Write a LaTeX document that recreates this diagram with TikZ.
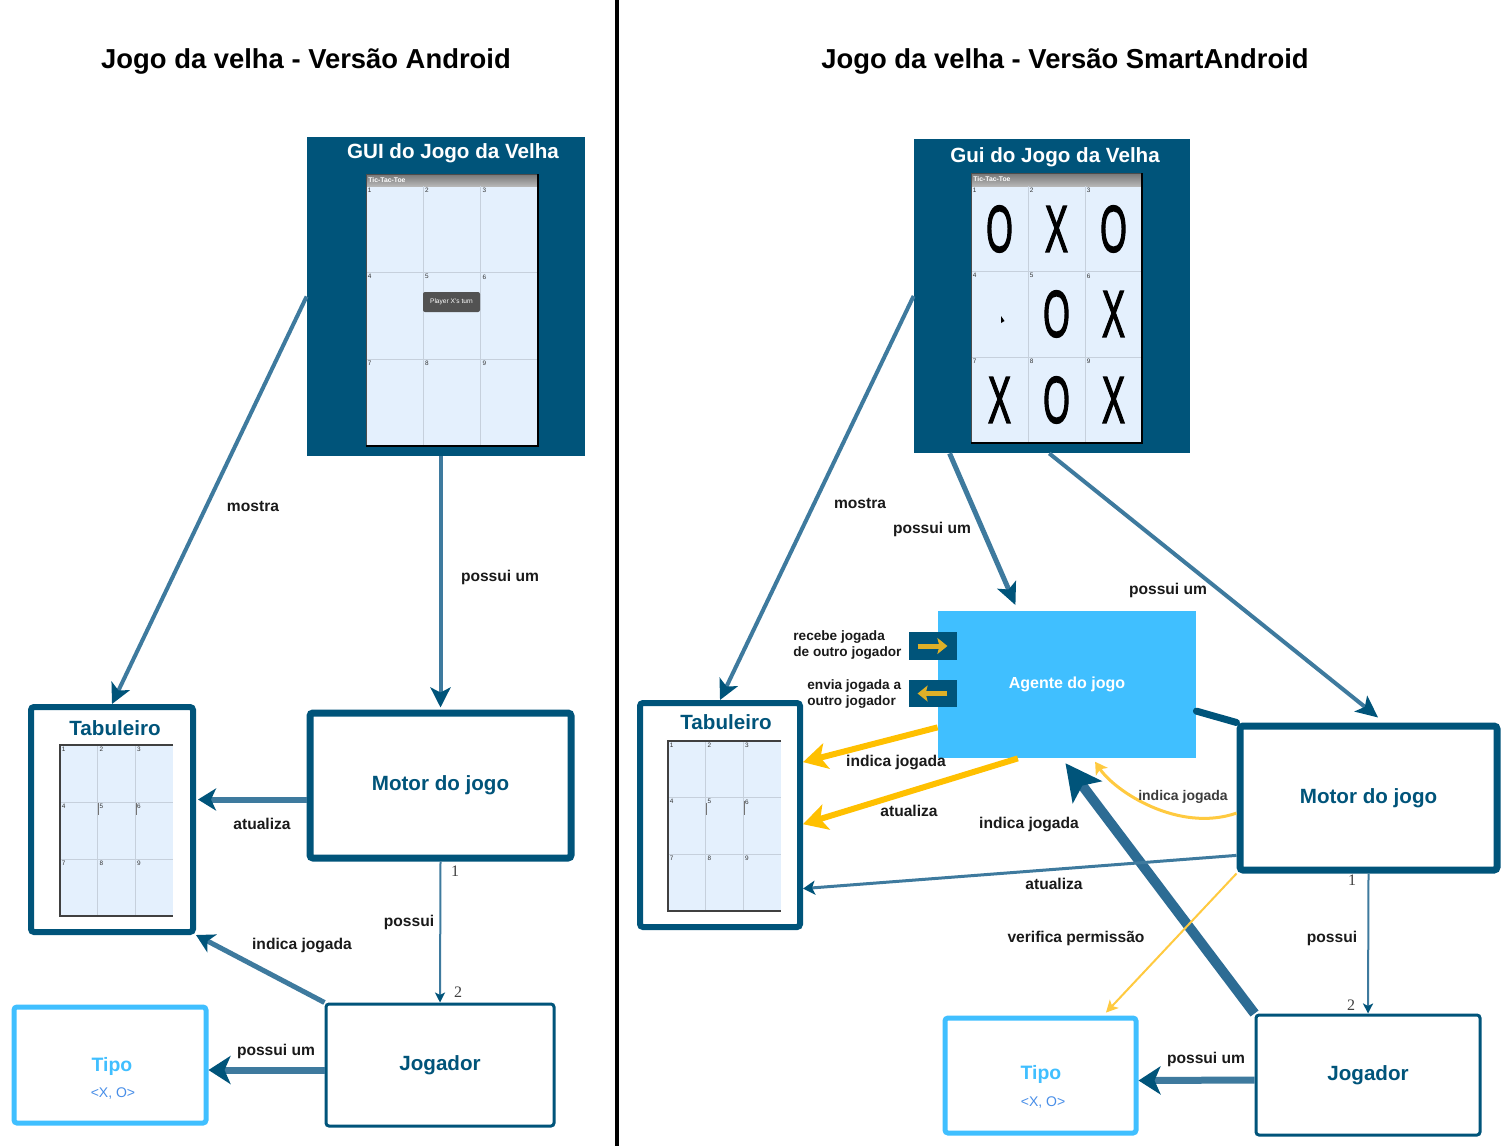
\documentclass[tikz,border=0pt]{standalone}
\usepackage{fontspec}
\setmainfont{Liberation Sans}
\newfontfamily\numfont{Liberation Serif}
\newfontfamily\markfont[FakeBold=2.5]{Liberation Sans}
\usetikzlibrary{arrows.meta,calc}
\definecolor{navy}{RGB}{0,84,122}
\definecolor{steel}{RGB}{62,122,158}
\definecolor{thickblue}{RGB}{45,108,148}
\definecolor{sky}{RGB}{64,191,255}
\definecolor{gold}{RGB}{255,192,0}
\definecolor{lgold}{RGB}{255,202,64}
\definecolor{boxgold}{RGB}{222,176,40}
\definecolor{cellbg}{RGB}{228,240,253}
\definecolor{gridln}{RGB}{198,208,220}
\definecolor{tipotxt}{RGB}{72,142,232}
\definecolor{lbl}{RGB}{26,26,26}
\definecolor{barTop}{RGB}{118,118,118}
\definecolor{barBot}{RGB}{182,182,182}
\newcommand\fs[1]{\fontsize{#1}{#1}\selectfont}
\newcommand\phonegrid[4]{% #1 width, #2 height, #3 title bar height, #4 show bar
  \fill[cellbg] (0,0) rectangle (#1,#2);
  \ifnum#4=1
    \shade[top color=barTop, bottom color=barBot] (0,0) rectangle (#1,#3);
    \node[inner sep=0, text=white, anchor=west, font=\fs{3.4}\bfseries] (bar) at (2,{#3/2}) {Tic-Tac-Toe};
  \fi
  \foreach \k in {1,2} {
    \draw[gridln, line width=0.5pt] ({\k*#1/3},#3) -- ({\k*#1/3},#2);
    \draw[gridln, line width=0.5pt] (0,{#3+\k*(#2-#3)/3}) -- (#1,{#3+\k*(#2-#3)/3});
  }
  \foreach \r in {0,1,2} \foreach \c in {0,1,2} {
    \pgfmathtruncatemacro\cellno{3*\r+\c+1}
    \node[tinytxt, anchor=north west] (cell\cellno) at ({\c*#1/3+1.5},{#3+\r*(#2-#3)/3+1.5}) {\cellno};
  }
}
\tikzset{
  titletxt/.style={font=\fs{13.7}\bfseries, text=black, inner sep=0},
  guibox/.style={fill=navy, draw=none, inner sep=0},
  guititle/.style={font=\fs{10.3}\bfseries, text=white, inner sep=0},
  plainbox/.style={draw=navy, fill=white, inner sep=0, rounded corners=1.5pt},
  boxlbl/.style={font=\fs{10.3}\bfseries, text=navy},
  tipobox/.style={draw=sky, fill=white, line width=2.5pt, inner sep=0, rounded corners=1.5pt},
  tipolbl/.style={font=\fs{9.7}\bfseries, text=sky, inner sep=0},
  tipoval/.style={font=\fs{7}, text=tipotxt, inner sep=0},
  edgelbl/.style={font=\fs{7.8}\bfseries, text=lbl, inner sep=0},
  smalledge/.style={font=\fs{7}\bfseries, text=lbl!85, inner sep=0},
  smalllbl/.style={font=\fontsize{6.8}{8}\selectfont\bfseries, text=lbl, inner sep=0, align=left},
  multnum/.style={font=\numfont\fs{8}, text=black!75, inner sep=0},
  conn/.style={draw=steel, line width=#1},
  tinytxt/.style={font=\fs{3.2}, inner sep=0, text=black!80},
  bigmark/.style={font=\markfont\fs{33}, inner sep=0},
}
\begin{document}
\begin{tikzpicture}[x=0.5pt,y=-0.5pt]
\useasboundingbox[fill=white] (0,0) rectangle (1508,1146);
\draw[line width=2pt] (617,0) -- (617,1146);

% titles
\node[titletxt] (tL) at (306,61) {Jogo da velha - Versão Android};
\node[titletxt] (tR) at (1065,61) {Jogo da velha - Versão SmartAndroid};

% ================= LEFT =================
\node[guibox, minimum width=139pt, minimum height=159.5pt] (guiL) at (446,296.5) {};
\node[guititle] (guiLt) at (453,153) {GUI do Jogo da Velha};
\begin{scope}[shift={(366,174)}]
  \phonegrid{172}{272}{12}{1}
  \draw[black!70, line width=0.4pt] (0,272) -- (0,0) -- (172,0);
  \draw[black, line width=1pt] (172,0) -- (172,272) -- (0,272);
  \node[fill=black!68, rounded corners=1pt, minimum width=28.5pt, minimum height=10pt, inner sep=0, text=white, font=\fs{3.3}] (toast) at (85.5,128) {Player X's turn};
\end{scope}

\node[plainbox, line width=3pt, minimum width=81pt, minimum height=112.5pt] (tabL) at (112,819.5) {};
\node[boxlbl, inner sep=0] (tabLt) at (115,728) {Tabuleiro};
\begin{scope}[shift={(60,745)}]
  \phonegrid{113}{171}{0}{0}
  \draw[black!75, line width=0.6pt] (113,0) -- (0,0) -- (0,171) -- (113,171);
  \draw[black!55, line width=0.4pt] (38,58) -- (38,70) (76,58) -- (76,70);
\end{scope}

\node[plainbox, boxlbl, line width=3.5pt, minimum width=130.5pt, minimum height=72.5pt] (motorL) at (440.5,785.5) {Motor do jogo};
\node[plainbox, boxlbl, line width=1.5pt, minimum width=114pt, minimum height=61pt] (jogL) at (440,1065) {Jogador};
\node[tipobox, minimum width=96pt, minimum height=58pt] (tipoL) at (110,1065) {};
\node[tipolbl] (tipoLt) at (112,1066) {Tipo};
\node[tipoval] (tipoLv) at (113,1093) {<X, O>};

% left connectors
\draw[conn=2pt, -{Stealth[length=10pt,width=10pt,inset=2.5pt,color=navy]}] (guiL.west) -- (tabL.north);
\draw[conn=2pt, -{Stealth[length=10pt,width=10pt,inset=2.5pt,color=navy]}, shorten >=1pt] (guiL.south -| motorL.north) -- (motorL.north);
\draw[conn=3pt, -{Stealth[length=9pt,width=11pt,inset=2.5pt,color=navy]}, shorten >=1pt] ([yshift=-7pt]motorL.west) -- ([yshift=-7pt]motorL.west -| tabL.east);
\draw[conn=1pt, -{Stealth[length=5pt,width=5pt,inset=1.2pt,color=navy]}] (motorL.south) -- (jogL.north);
\draw[conn=2.5pt, -{Stealth[length=9pt,width=10pt,inset=2.5pt,color=navy]}] (jogL.north west) -- (tabL.south east);
\draw[conn=3.5pt, -{Stealth[length=11pt,width=14pt,inset=3pt,color=navy]}] ([yshift=-2.5pt]jogL.west) -- ([yshift=-2.5pt]tipoL.east);

\node[edgelbl] (lm1) at (253,506) {mostra};
\node[edgelbl] (lp1) at (500,577) {possui um};
\node[edgelbl] (la1) at (262,824) {atualiza};
\node[edgelbl] (lp2) at (409,922) {possui};
\node[multnum] (ln1) at (455,871) {1};
\node[multnum] (ln2) at (458,992) {2};
\node[edgelbl] (li1) at (302,945) {indica jogada};
\node[edgelbl] (lp3) at (276,1051) {possui um};

% ================= RIGHT =================
\node[guibox, minimum width=138pt, minimum height=157pt] (guiR) at (1052,296) {};
\node[guititle] (guiRt) at (1055,157) {Gui do Jogo da Velha};
\begin{scope}[shift={(971,173)}]
  \phonegrid{171}{270}{13}{1}
  \draw[black!70, line width=0.4pt] (0,270) -- (0,0) -- (171,0);
  \draw[black, line width=1pt] (171,0) -- (171,270) -- (0,270);
  \foreach \cx/\cy/\ch [count=\i] in {28.5/56/O, 85.5/56/X, 142.5/56/O, 85.5/141/O, 142.5/141/X, 28.5/227/X, 85.5/227/O, 142.5/227/X}
    \node[bigmark] (mk\i) at (\cx,\cy) {\scalebox{0.52}[1]{\ch}};
  \fill[black] (30,143) -- (30,150) -- (33.5,148) -- cycle;
\end{scope}

\node[fill=sky, inner sep=0, minimum width=129pt, minimum height=73.5pt, font=\fs{8}\bfseries, text=white] (agente) at (1067,684.5) {Agente do jogo};
\node[fill=navy, inner sep=0, minimum width=24pt, minimum height=14pt] (boxIn) at (933,646) {};
\node[fill=navy, inner sep=0, minimum width=24pt, minimum height=13.5pt] (boxOut) at (933,693.5) {};
\draw[boxgold, line width=2.5pt, -{Stealth[length=5pt,width=8pt,inset=1pt]}] ([xshift=4.5pt]boxIn.west) -- ([xshift=-5pt]boxIn.east);
\draw[boxgold, line width=2.5pt, -{Stealth[length=5pt,width=8pt,inset=1pt]}] ([xshift=-5pt]boxOut.east) -- ([xshift=4.5pt]boxOut.west);
\node[smalllbl, anchor=west] (lblIn) at (793,645) {recebe jogada\\de outro jogador};
\node[smalllbl, anchor=west] (lblOut) at (807,694) {envia jogada a\\outro jogador};

\node[plainbox, line width=3pt, minimum width=80pt, minimum height=112pt] (tabR) at (720,815) {};
\node[boxlbl, inner sep=0] (tabRt) at (726,722) {Tabuleiro};
\begin{scope}[shift={(668,741)}]
  \phonegrid{113}{170}{0}{0}
  \draw[black!75, line width=0.6pt] (113,0) -- (0,0) -- (0,170) -- (113,170);
  \draw[black!55, line width=0.4pt] (38,62) -- (38,74) (76,60) -- (76,74);
\end{scope}

\node[plainbox, boxlbl, line width=3.5pt, minimum width=128.5pt, minimum height=72pt] (motorR) at (1368.5,798) {Motor do jogo};
\node[plainbox, boxlbl, line width=1.5pt, minimum width=112pt, minimum height=60pt] (jogR) at (1368,1075) {Jogador};
\node[tipobox, minimum width=95.5pt, minimum height=57.5pt] (tipoR) at (1040.5,1075.5) {};
\node[tipolbl] (tipoRt) at (1041,1074) {Tipo};
\node[tipoval] (tipoRv) at (1043,1102) {<X, O>};

% right connectors
\draw[conn=2pt, -{Stealth[length=10pt,width=10pt,inset=2.5pt,color=navy]}] (guiR.west) -- (tabR.north);
\draw[conn=2.5pt, -{Stealth[length=11pt,width=10pt,inset=2.5pt,color=navy]}, shorten >=3pt] ($(guiR.south west)!0.13!(guiR.south east)$) -- ($(agente.north west)!0.31!(agente.north east)$);
\draw[conn=2pt, -{Stealth[length=11pt,width=10pt,inset=2.5pt,color=navy]}, shorten >=4pt] ($(guiR.south west)!0.49!(guiR.south east)$) -- ($(motorR.north west)!0.56!(motorR.north east)$);
\draw[navy, line width=3.5pt, line cap=round] ($(agente.north east)!0.68!(agente.south east)$) -- (motorR.north west);
\draw[gold, line width=3pt, -{Stealth[length=12pt,width=13pt,inset=3pt]}] ($(agente.north west)!0.79!(agente.south west)$) -- ($(tabR.north east)!0.27!(tabR.south east)$);
\draw[gold, line width=3pt, -{Stealth[length=12pt,width=13pt,inset=3pt]}] ($(agente.south west)!0.31!(agente.south east)$) -- ($(tabR.north east)!0.54!(tabR.south east)$);
\coordinate (cvS) at ($(motorR.north west)!0.6!(motorR.south west)$);
\coordinate (cvE) at ($(agente.south west)!0.6!(agente.south east)$);
\draw[lgold, line width=1.5pt, -{Stealth[length=6pt,width=7pt,inset=1.5pt]}, shorten >=2pt] (cvS) .. controls ($(cvS)+(-58,20)$) and ($(cvE)+(22,33)$) .. (cvE);
\draw[thickblue, line width=5pt, -{Stealth[length=18pt,width=18pt,inset=4pt,color=navy]}, shorten >=3pt] (jogR.north west) -- ($(agente.south west)!0.48!(agente.south east)$);
\draw[conn=1.5pt, -{Stealth[length=6pt,width=7pt,inset=1.5pt,color=navy]}] ($(motorR.north west)!0.88!(motorR.south west)$) -- ($(tabR.north east)!0.82!(tabR.south east)$);
\draw[lgold, line width=1pt, -{Stealth[length=6pt,width=6pt,inset=1.5pt]}, shorten >=2pt] (motorR.south west) -- ($(tipoR.north west)!0.82!(tipoR.north east)$);
\draw[conn=1pt, -{Stealth[length=5pt,width=5pt,inset=1.2pt,color=navy]}] (motorR.south) -- (jogR.north);
\draw[conn=3.5pt, -{Stealth[length=11pt,width=14pt,inset=3pt,color=navy]}] ([yshift=-2.5pt]jogR.west) -- ([yshift=-2.5pt]tipoR.east);

\node[edgelbl] (rm1) at (860,503) {mostra};
\node[edgelbl] (rp1) at (932,529) {possui um};
\node[edgelbl] (rp2) at (1168,590) {possui um};
\node[edgelbl] (ri1) at (896,762) {indica jogada};
\node[edgelbl] (ra1) at (909,811) {atualiza};
\node[edgelbl] (ri2) at (1029,824) {indica jogada};
\node[smalledge] (ri3) at (1183,797) {indica jogada};
\node[edgelbl] (ra2) at (1054,884) {atualiza};
\node[edgelbl] (rv1) at (1076,938) {verifica permissão};
\node[edgelbl] (rp3) at (1332,938) {possui};
\node[multnum] (rn1) at (1352,880) {1};
\node[multnum] (rn2) at (1351,1005) {2};
\node[edgelbl] (rp4) at (1206,1059) {possui um};
\end{tikzpicture}
\end{document}
